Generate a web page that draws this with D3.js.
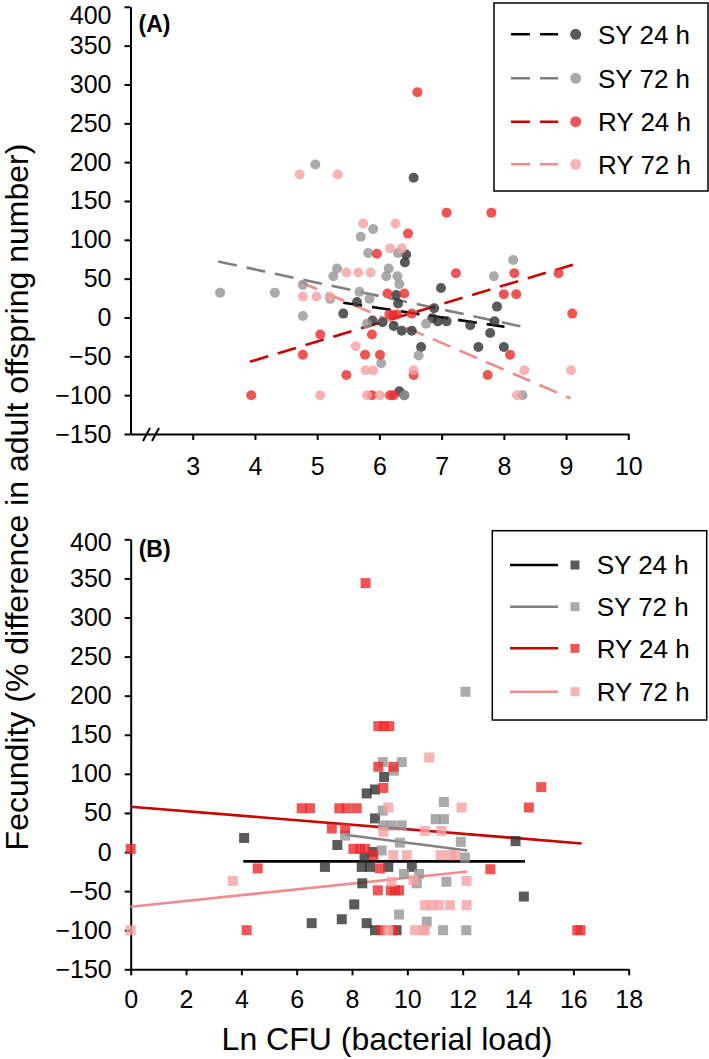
<!DOCTYPE html>
<html><head><meta charset="utf-8">
<script src="https://cdn.jsdelivr.net/npm/d3@7"></script>
<style>
html,body{margin:0;padding:0;background:#fff;}
text{font-family:"Liberation Sans",Arial,Helvetica,sans-serif;fill:#000;}
</style></head>
<body>
<svg id="chart" width="709" height="1059"></svg>
<script>
// ---------- DATA ----------
const seriesNames = ["SY 24 h","SY 72 h","RY 24 h","RY 72 h"];
const yTicks = [-150,-100,-50,0,50,100,150,200,250,300,350,400];
const xTicksA = [3,4,5,6,7,8,9,10];
const xTicksB = [0,2,4,6,8,10,12,14,16,18];

// Panel A (x = ln CFU, y = % difference)
const A_SY24 = [[6.55,180],[6.43,81],[6.41,71],[5.64,20],[5.89,-4],[6.05,-6],[6.27,29],[6.30,18],[5.42,5],[6.23,-11],[6.36,-17],[6.52,-17],[6.67,-38],[6.32,-95],[6.40,-100],[6.99,38],[7.89,14],[6.88,12],[6.85,-1],[6.94,-5],[7.08,-5],[7.46,-10],[7.85,-5],[7.78,-20],[7.59,-38],[8.00,-38]];
const A_SY72 = [[4.97,197],[5.90,114],[5.70,104],[5.82,83],[6.30,83],[5.32,63],[5.26,53],[6.15,63],[6.11,53],[6.29,53],[3.44,32],[4.32,32],[4.77,42],[5.21,24],[6.32,43],[5.68,33],[5.84,24],[6.75,-8],[5.80,-8],[6.03,-59],[6.63,-49],[8.15,74],[7.84,53],[8.30,-100],[4.77,2],[6.40,-100]];
const A_RY24 = [[6.61,290],[6.46,108],[5.96,82],[6.13,31],[6.40,31],[6.16,4],[6.22,3],[6.28,4],[6.52,5],[5.05,-22],[5.88,-22],[4.77,-48],[5.77,-48],[6.01,-48],[5.47,-74],[6.55,-74],[3.94,-100],[5.88,-100],[6.17,-100],[6.23,-100],[7.08,135],[7.80,135],[7.23,57],[8.17,57],[8.88,57],[8.00,30],[8.20,30],[9.10,5],[8.10,-48],[7.74,-74]];
const A_RY72 = [[4.72,184],[5.33,184],[5.74,121],[6.26,121],[6.17,89],[6.36,89],[5.47,58],[5.66,58],[5.86,58],[4.77,27],[4.99,27],[5.20,27],[5.62,-37],[5.78,-68],[5.90,-68],[6.55,-68],[5.05,-100],[5.80,-100],[6.01,-100],[8.33,-68],[9.08,-68],[8.21,-100]];
// regression lines panel A: [x1,y1,x2,y2]
const A_fits = [[5.42,19,8.01,-12],[3.41,72,8.31,-12],[3.92,-57,9.11,68],[4.72,46,9.07,-104]];

// Panel B
const B_SY24 = [[9.16,96],[8.83,80],[8.53,75],[8.83,43],[4.10,18],[7.47,9],[8.75,0],[8.45,-6],[7.02,-19],[8.35,-19],[8.65,-19],[9.31,-19],[10.16,-19],[8.37,-40],[8.08,-67],[6.54,-91],[7.63,-86],[8.53,-91],[8.83,-100],[9.61,-100],[13.91,14],[14.21,-57]];
const B_SY72 = [[9.11,115],[9.80,115],[9.52,104],[9.11,53],[7.75,21],[9.13,34],[9.43,34],[9.80,34],[9.73,12],[9.07,2],[9.88,-28],[10.34,-40],[9.70,-80],[10.70,-89],[12.10,205],[11.32,64],[11.02,42],[11.32,42],[11.93,13],[12.08,-7],[10.42,-28],[11.41,-38],[11.29,-100],[12.13,-100]];
const B_RY24 = [[8.49,344],[8.95,161],[9.15,161],[9.35,161],[8.95,109],[9.49,109],[9.13,82],[6.18,56],[6.48,56],[7.54,56],[7.81,56],[8.17,56],[7.27,30],[7.75,30],[0,4],[8.05,4],[8.29,4],[8.47,4],[8.77,-4],[4.59,-21],[9.01,-21],[8.93,-49],[9.40,-49],[9.55,-49],[9.70,-49],[4.19,-100],[9.07,-100],[9.49,-100],[14.84,83],[14.39,57],[13.00,-22],[16.14,-100],[16.26,-100]];
const B_RY72 = [[10.79,121],[9.31,57],[9.13,26],[9.49,-4],[9.98,-4],[3.69,-37],[10.22,-36],[9.43,-38],[10.64,-68],[0,-100],[9.31,-100],[10.28,-100],[10.58,-100],[11.96,57],[10.63,27],[11.23,27],[11.20,-4],[11.56,-4],[11.72,-4],[12.14,-37],[10.90,-68],[11.14,-68],[11.54,-68],[12.14,-68],[10.63,-100]];
const B_fits = [[4.07,-12,14.25,-12],[7.75,22,12.17,2],[0,58,16.3,11],[0,-70,12.17,-25]];

// ---------- STYLE ----------
const markFill = ["#313131","#959595","#ec2a2a","#f6a1a1"];
const lineCol = ["#000000","#808080","#cc0000","#f08c8c"];
const markOpacity = 0.8;

const svg = d3.select("#chart");

function styleAxis(g){
  g.selectAll("path,line").attr("stroke","#000").attr("stroke-width",2);
  g.selectAll("text").attr("font-size",25).attr("font-family",'"Liberation Sans",Arial,sans-serif').attr("fill","#000");
}

function panel(cfg){
  const x = d3.scaleLinear().domain(cfg.xDomain).range(cfg.xRange);
  const y = d3.scaleLinear().domain([-150,400]).range(cfg.yRange);
  const g = svg.append("g");

  // axes
  const gy = g.append("g").attr("transform",`translate(${cfg.xRange[0]},0)`)
    .call(d3.axisLeft(y).tickValues(yTicks).tickSize(6).tickSizeOuter(0).tickPadding(13));
  styleAxis(gy);
  // keep the top label inside the picture
  gy.selectAll(".tick").filter(d=>d===400).select("text").attr("y",cfg.topLabelShift);
  const gx = g.append("g").attr("transform",`translate(0,${cfg.yRange[0]})`)
    .call(d3.axisBottom(x).tickValues(cfg.xTicks).tickSize(6).tickSizeOuter(0).tickPadding(cfg.xPad));
  styleAxis(gx);

  // fits
  cfg.fits.forEach((f,i)=>{
    g.append("line")
      .attr("x1",x(f[0])).attr("y1",y(f[1])).attr("x2",x(f[2])).attr("y2",y(f[3]))
      .attr("stroke",lineCol[i]).attr("stroke-width",2.6)
      .attr("stroke-dasharray",cfg.dashed?"19,10":null);
  });

  // points
  cfg.series.forEach((pts,i)=>{
    const sel = g.append("g").selectAll("*").data(pts);
    if(cfg.shape==="circle"){
      sel.join("circle").attr("cx",d=>x(d[0])).attr("cy",d=>y(d[1])).attr("r",5)
        .attr("fill",markFill[i]).attr("fill-opacity",markOpacity);
    } else {
      sel.join("rect").attr("x",d=>x(d[0])-5).attr("y",d=>y(d[1])-5).attr("width",10).attr("height",10)
        .attr("fill",markFill[i]).attr("fill-opacity",markOpacity);
    }
  });

  // panel label
  g.append("text").attr("x",cfg.xRange[0]+8).attr("y",cfg.labelY)
    .attr("font-size",23).attr("font-weight","bold").text(cfg.label);

  // legend
  const L = cfg.legend;
  g.append("rect").attr("x",L.x).attr("y",L.y).attr("width",L.w).attr("height",L.h)
    .attr("fill","#fff").attr("stroke","#000").attr("stroke-width",1.5);
  seriesNames.forEach((name,i)=>{
    const ry = L.rowY[i];
    g.append("line").attr("x1",L.lx1).attr("x2",L.lx2).attr("y1",ry).attr("y2",ry)
      .attr("stroke",lineCol[i]).attr("stroke-width",2.6)
      .attr("stroke-dasharray",cfg.dashed?"19,10":null);
    if(cfg.shape==="circle"){
      g.append("circle").attr("cx",L.mx).attr("cy",ry).attr("r",5.5)
        .attr("fill",markFill[i]).attr("fill-opacity",markOpacity);
    } else {
      g.append("rect").attr("x",L.mx-4.5).attr("y",ry-4.5).attr("width",9).attr("height",9)
        .attr("fill",markFill[i]).attr("fill-opacity",markOpacity);
    }
    g.append("text").attr("x",L.tx).attr("y",ry+9.3).attr("font-size",26).text(name);
  });
  return {g,x,y};
}

const pA = panel({
  xDomain:[2,10], xRange:[130.5,628.3], yRange:[434,6.8], xTicks:xTicksA, xPad:17, topLabelShift:8.5,
  series:[A_SY24,A_SY72,A_RY24,A_RY72], fits:A_fits, dashed:true, shape:"circle",
  label:"(A)", labelY:31.5,
  legend:{x:494,y:3,w:214,h:188,rowY:[34.3,78.3,121.7,164.3],lx1:511,lx2:558,mx:575.7,tx:598}
});
// axis break marks
[[143,441,150,428],[152,441,159,428]].forEach(b=>{
  pA.g.append("line").attr("x1",b[0]).attr("y1",b[1]).attr("x2",b[2]).attr("y2",b[3])
    .attr("stroke","#000").attr("stroke-width",2);
});

const pB = panel({
  xDomain:[0,18], xRange:[130.7,628.7], yRange:[969.3,539.3], xTicks:xTicksB, xPad:15, topLabelShift:3,
  series:[B_SY24,B_SY72,B_RY24,B_RY72], fits:B_fits, dashed:false, shape:"square",
  label:"(B)", labelY:556.7,
  legend:{x:492.3,y:530.7,w:214.4,h:189.3,rowY:[565,606.7,648.3,691.7],lx1:510,lx2:558,mx:575,tx:596.7}
});

// axis titles
svg.append("text").attr("transform","translate(28,497) rotate(-90)")
  .attr("text-anchor","middle").attr("font-size",32)
  .text("Fecundity (% difference in adult offspring number)");
svg.append("text").attr("x",387).attr("y",1049.5)
  .attr("text-anchor","middle").attr("font-size",32)
  .text("Ln CFU (bacterial load)");
</script>
</body></html>
